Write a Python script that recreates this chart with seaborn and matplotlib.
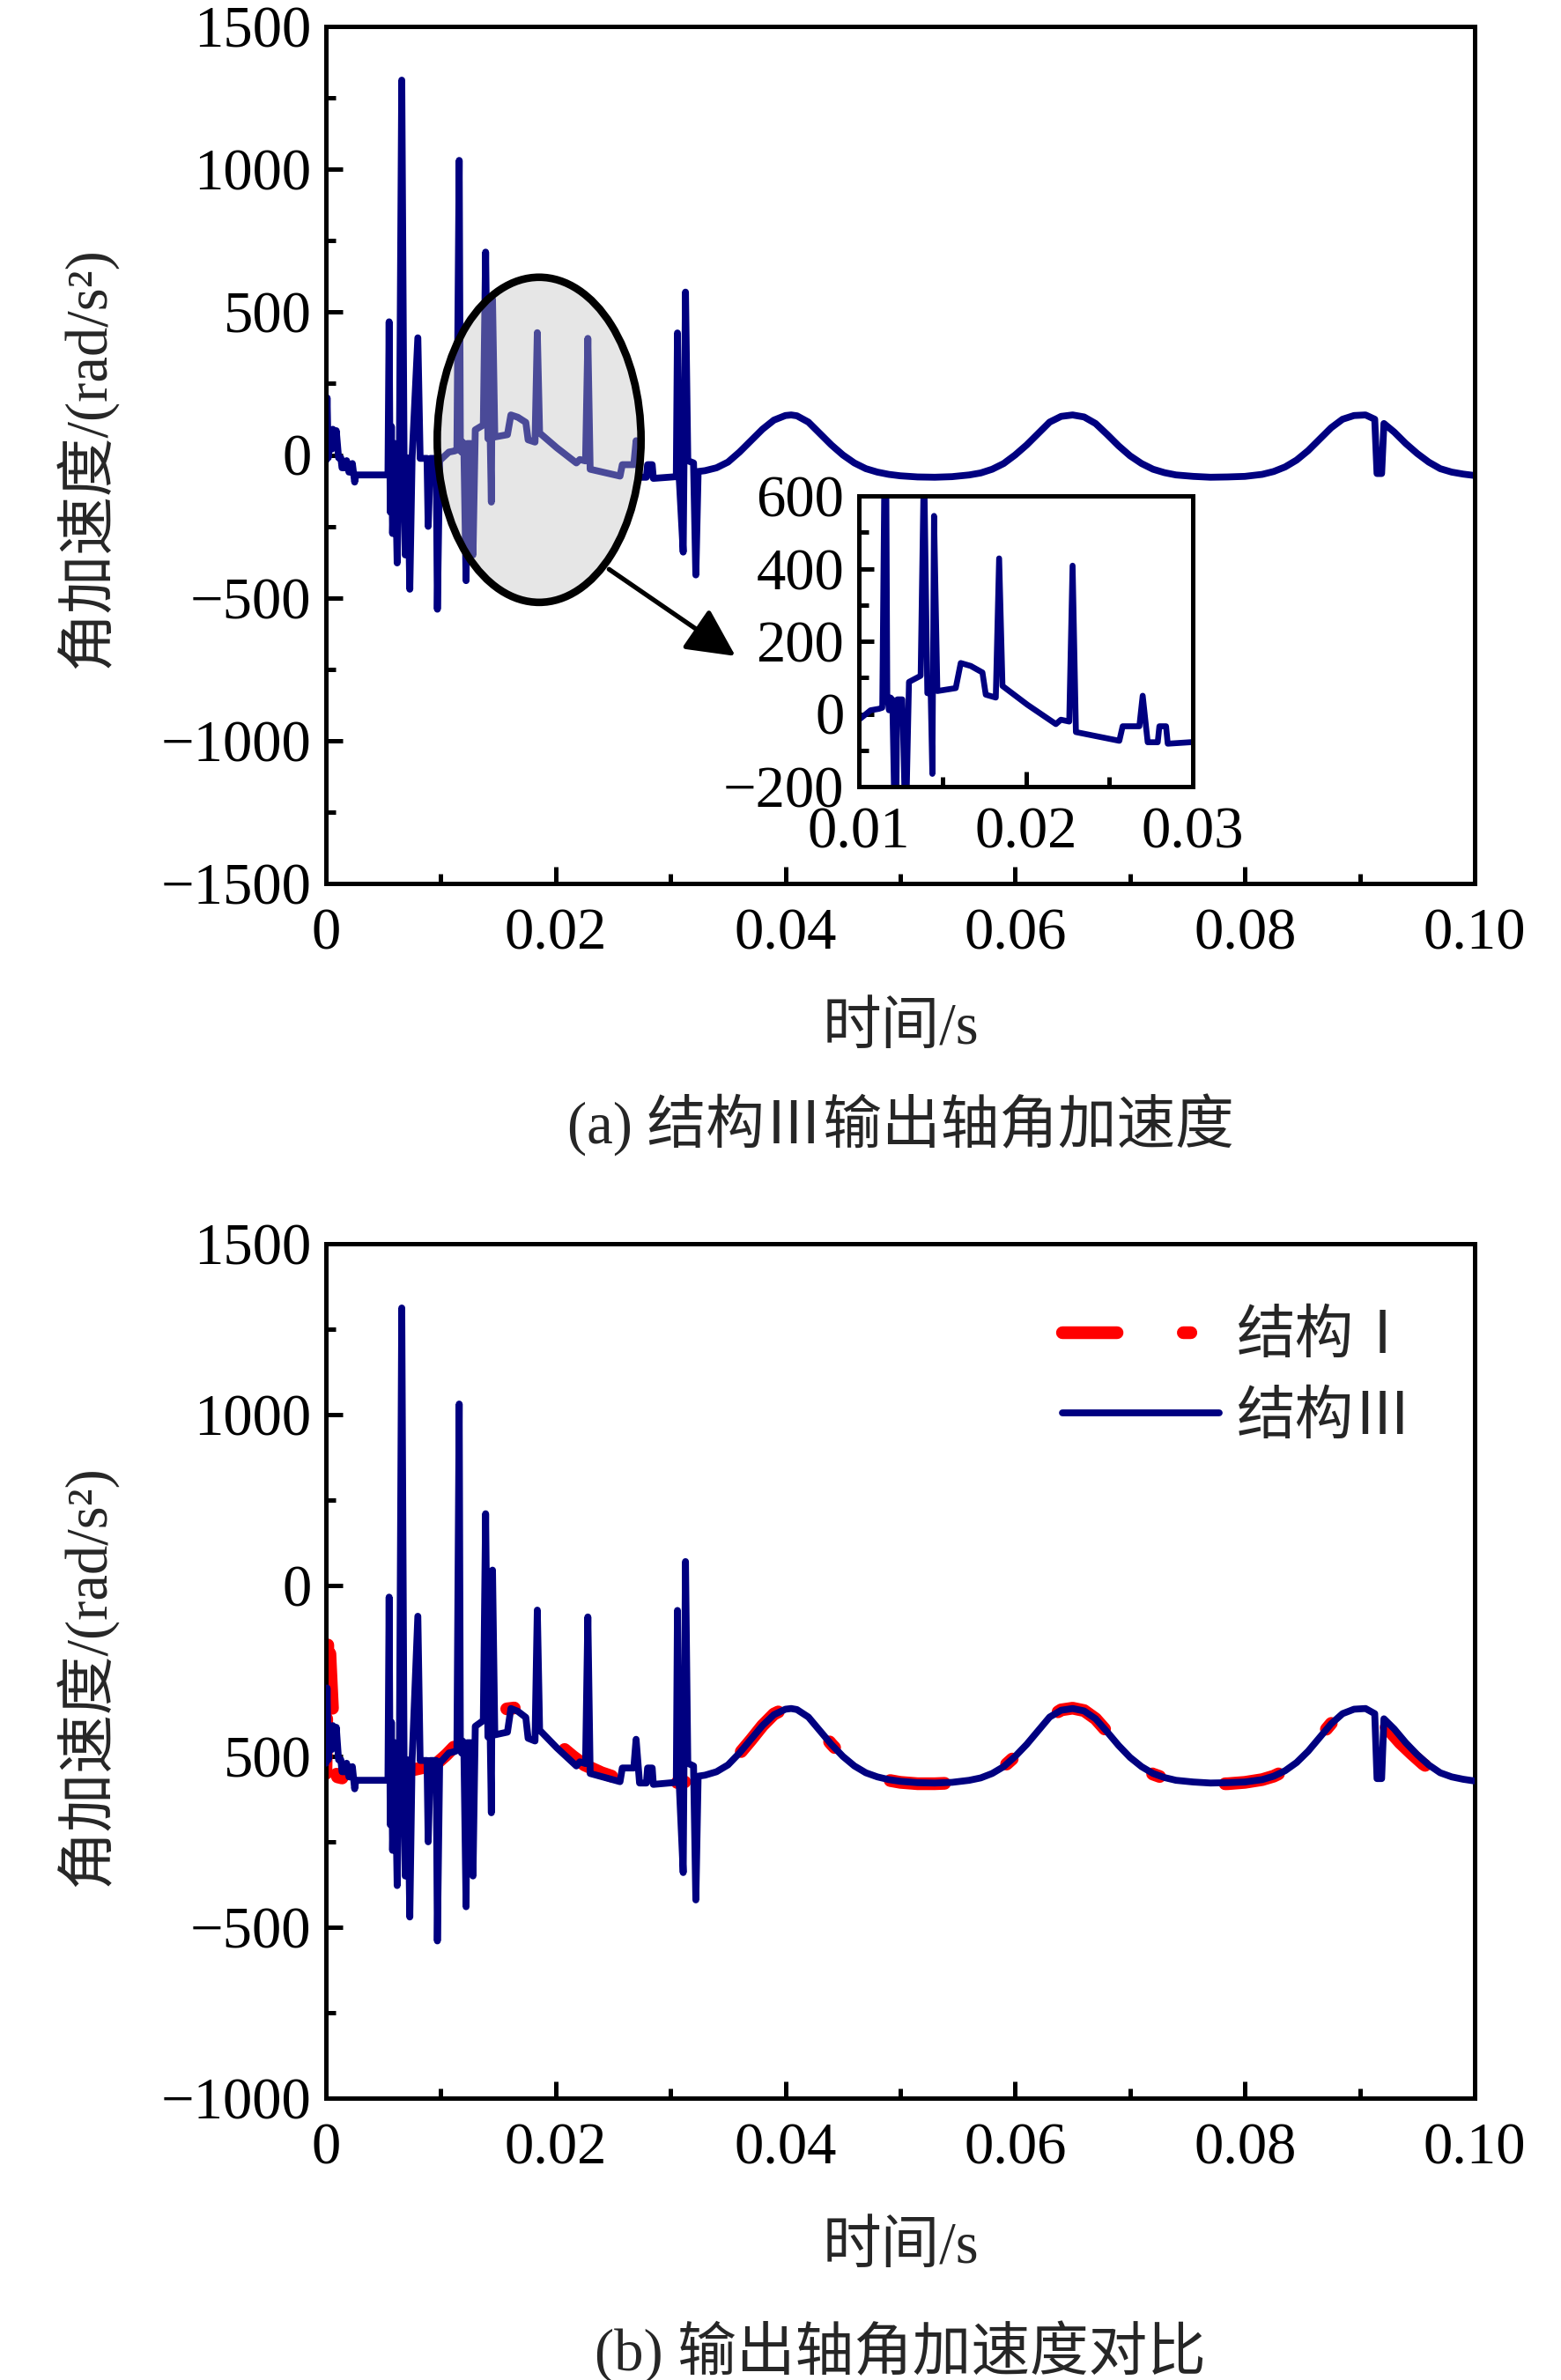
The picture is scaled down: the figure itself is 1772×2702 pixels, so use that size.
import numpy as np
import pandas as pd
import matplotlib
matplotlib.use("Agg")
import matplotlib.pyplot as plt
from matplotlib.patches import Ellipse
from matplotlib.ticker import MultipleLocator
import seaborn as sns

# ---------------- data ----------------
t3 = [0.0000, 0.0001, 0.0002, 0.0003, 0.0005, 0.0006, 0.0008, 0.0009, 0.0011, 0.0013,
      0.0014, 0.0017, 0.0018, 0.0020, 0.0022, 0.0023, 0.0025, 0.0026, 0.0054, 0.0055,
      0.0056, 0.0057, 0.0058, 0.0060, 0.0062, 0.0064, 0.0066, 0.0068, 0.0069, 0.0071,
      0.0073, 0.0075, 0.0080, 0.0082, 0.0088, 0.0089, 0.0091, 0.0096, 0.0097, 0.0099,
      0.0100, 0.0103, 0.0107, 0.0112, 0.0114, 0.0116, 0.0117, 0.0118, 0.0119, 0.0120,
      0.0122, 0.0123, 0.0126, 0.0128, 0.0130, 0.0137, 0.0139, 0.0141, 0.0143, 0.0144,
      0.0145, 0.0147, 0.0158, 0.0161, 0.0167, 0.0174, 0.0176, 0.0182, 0.0184, 0.0186,
      0.0201, 0.0209, 0.0218, 0.0221, 0.0226, 0.0228, 0.0230, 0.0256, 0.0258, 0.0268,
      0.0270, 0.0273, 0.0279, 0.0280, 0.0284, 0.0285, 0.0305, 0.0306, 0.0307, 0.0311,
      0.0313, 0.0315, 0.0320, 0.0322, 0.0324,
      0.0330, 0.0340, 0.0350, 0.0360, 0.0370, 0.0380, 0.0390, 0.0400, 0.0405, 0.0410,
      0.0420, 0.0430, 0.0440, 0.0450, 0.0460, 0.0470, 0.0480, 0.0490, 0.0500, 0.0515,
      0.0530, 0.0545, 0.0560, 0.0570, 0.0580, 0.0590, 0.0600, 0.0610, 0.0620, 0.0630,
      0.0640, 0.0650, 0.0660, 0.0670, 0.0680, 0.0690, 0.0700, 0.0710, 0.0720, 0.0730,
      0.0740, 0.0755, 0.0770, 0.0785, 0.0800, 0.0815, 0.0825, 0.0835, 0.0845, 0.0855,
      0.0865, 0.0875, 0.0885, 0.0895, 0.0905, 0.0913, 0.0915, 0.0919, 0.0921, 0.0930,
      0.0940, 0.0950, 0.0960, 0.0970, 0.0980, 0.0990, 0.1000]
a3 = [-20, 200, -10, 85, 20, 90, 25, 85, -10, -10,
      -45, -45, -20, -60, -60, -30, -95, -70, -70, 466,
      -200, 100, -275, 40, -378, 40, 1312, -10, -350, -10,
      -470, -10, 410, -12, -12, -250, -12, -12, -540, -15,
      -16, -5, 10, 14, 17, 1031, 47, 10, 45, 40,
      -440, 40, 40, -350, 88, 105, 710, 57, 60, -165,
      545, 63, 71, 140, 132, 114, 53, 45, 428, 77,
      25, 0, -28, -16, -21, 408, -50, -74, -34, -34,
      50, -78, -78, -34, -34, -82, -76, 427, -40, -340,
      570, -20, -28, -420, -58,
      -55, -45, -25, 10, 50, 90, 122, 138, 140, 137,
      115, 75, 35, 0, -28, -48, -60, -68, -73, -77,
      -78, -76, -70, -63, -50, -30, 0, 35, 75, 115,
      135, 140, 133, 110, 72, 32, -3, -30, -50, -62,
      -70, -75, -78, -77, -75, -68, -58, -42, -18, 15,
      55, 95, 125, 138, 140, 125, -65, -65, 110, 80,
      40, 5, -25, -48, -60, -67, -72]

t1 = [0.0000, 0.0002, 0.0004, 0.0006, 0.0008, 0.0010, 0.0025, 0.0050, 0.0075, 0.0095,
      0.0105, 0.0115, 0.0125, 0.0135, 0.0145, 0.0155, 0.0165, 0.0175, 0.0185, 0.0195,
      0.0205, 0.0215, 0.0225, 0.0240, 0.0255, 0.0270, 0.0290, 0.0310, 0.0325,
      0.0330, 0.0340, 0.0350, 0.0360, 0.0370, 0.0380, 0.0390, 0.0400, 0.0405, 0.0410,
      0.0420, 0.0430, 0.0440, 0.0450, 0.0460, 0.0470, 0.0480, 0.0490, 0.0500, 0.0515,
      0.0530, 0.0545, 0.0560, 0.0570, 0.0580, 0.0590, 0.0600, 0.0610, 0.0620, 0.0630,
      0.0640, 0.0650, 0.0660, 0.0670, 0.0680, 0.0690, 0.0700, 0.0710, 0.0720, 0.0730,
      0.0740, 0.0755, 0.0770, 0.0785, 0.0800, 0.0815, 0.0825, 0.0835, 0.0845, 0.0855,
      0.0865, 0.0875, 0.0885, 0.0895, 0.0905, 0.0915, 0.0925, 0.0935, 0.0945, 0.0955,
      0.0965, 0.0975, 0.0990, 0.1000]
a1 = [-50, 410, 260, 120, -40, -60, -72, -62, -40, -25,
      5, 40, 72, 100, 122, 138, 142, 125, 98, 60,
      28, 0, -25, -48, -65, -75, -78, -76, -68,
      -62, -48, -28, 8, 48, 90, 124, 140, 142, 138,
      116, 76, 36, 0, -30, -50, -62, -70, -76, -80,
      -80, -78, -72, -64, -50, -30, 0, 35, 75, 115,
      136, 141, 134, 110, 72, 32, -4, -32, -52, -64,
      -72, -78, -81, -80, -76, -68, -58, -42, -18, 15,
      56, 96, 126, 138, 138, 112, 78, 40, 8, -22,
      -45, -58, -68, -72]

xticks_main = [0, 0.02, 0.04, 0.06, 0.08, 0.10]
xticklabels_main = ["0", "0.02", "0.04", "0.06", "0.08", "0.10"]
yticks_a = [1500, 1000, 500, 0, -500, -1000, -1500]
yticklabels_a = ["1500", "1000", "500", "0", "\u2212500", "\u22121000", "\u22121500"]
yticks_b = [1500, 1000, 500, 0, -500, -1000]
yticklabels_b = ["1500", "1000", "0", "500", "\u2212500", "\u22121000"]
xticks_in = [0.01, 0.02, 0.03]
xticklabels_in = ["0.01", "0.02", "0.03"]
yticks_in = [600, 400, 200, 0, -200]
yticklabels_in = ["600", "400", "200", "0", "\u2212200"]

name1 = "结构Ⅰ"
name3 = "结构Ⅲ"
ylabel = "角加速度/(rad/s²)"
xlabel = "时间/s"
cap_a = "(a) 结构Ⅲ输出轴角加速度"
cap_b = "(b) 输出轴角加速度对比"

df3 = pd.DataFrame({"t": t3, "a": a3})
df1 = pd.DataFrame({"t": t1, "a": a1})

# ---------------- style ----------------
sns.set_theme(style="ticks")
FAM = ["Liberation Serif", "Noto Sans CJK SC", "DejaVu Sans"]
plt.rcParams["font.family"] = FAM
plt.rcParams["axes.unicode_minus"] = True

BLUE = "#000080"
RED = "#ff0000"
FS = 24
SPW = 1.8
LWB = 2.8

W, H = 1772, 2702
fig = plt.figure(figsize=(W / 200, H / 200), dpi=200)
fig.patch.set_facecolor("white")


def style_axes(ax, xt, xtl, yt, ytl, xminor, yminor):
    for s in ax.spines.values():
        s.set_visible(True)
        s.set_color("black")
        s.set_linewidth(SPW)
    ax.set_facecolor("white")
    ax.set_xticks(xt)
    ax.set_xticklabels(xtl, fontsize=FS)
    ax.set_yticks(yt)
    ax.set_yticklabels(ytl, fontsize=FS)
    ax.xaxis.set_minor_locator(MultipleLocator(xminor))
    ax.yaxis.set_minor_locator(MultipleLocator(yminor))
    ax.tick_params(which="both", direction="in", top=False, right=False,
                   width=SPW, color="black", labelcolor="black")
    ax.tick_params(which="major", length=7)
    ax.tick_params(which="minor", length=4)
    ax.tick_params(axis="y", which="major", pad=6)
    ax.tick_params(axis="x", which="major", pad=10)
    ax.set_xlabel("")
    ax.set_ylabel("")
    ax.grid(False)


# ---------------- (a) ----------------
axA = fig.add_axes([370 / W, 1 - 1003 / H, 1304 / W, 973 / H])
sns.lineplot(data=df3, x="t", y="a", ax=axA, color=BLUE, lw=LWB, sort=False,
             estimator=None)
axA.set_xlim(0, 0.1)
axA.set_ylim(-1500, 1500)
style_axes(axA, xticks_main, xticklabels_main, yticks_a, yticklabels_a, 0.01, 250)
ell = Ellipse((0.01856, 53), 0.01774, 1138, facecolor=(0.75, 0.75, 0.75), alpha=0.39,
              edgecolor="none", zorder=4)
axA.add_patch(ell)
ell2 = Ellipse((0.01856, 53), 0.01774, 1138, facecolor="none", edgecolor="black",
               lw=3.1, zorder=5)
axA.add_patch(ell2)
axA.annotate("", xy=(0.03565, -704), xytext=(0.02464, -400),
             arrowprops=dict(arrowstyle="-|>", color="black", lw=1.9,
                             mutation_scale=42, shrinkA=0, shrinkB=0), zorder=6)

# inset
axI = fig.add_axes([975 / W, 1 - 893 / H, 379 / W, 330 / H])
sns.lineplot(data=df3, x="t", y="a", ax=axI, color=BLUE, lw=2.4, sort=False,
             estimator=None)
axI.set_xlim(0.01, 0.03)
axI.set_ylim(-200, 600)
style_axes(axI, xticks_in, xticklabels_in, yticks_in, yticklabels_in, 0.005, 100)
axI.tick_params(which="major", length=6)
axI.tick_params(which="minor", length=4)
axI.tick_params(axis="x", which="major", pad=8)

fig.text(1022 / W, 1 - 1168 / H, xlabel, ha="center", va="center", fontsize=FS, family=FAM)
fig.text(1022 / W, 1 - 1277 / H, cap_a, ha="center", va="center", fontsize=FS, family=FAM)
fig.text(98 / W, 1 - 520 / H, ylabel, ha="center", va="center", rotation=90,
         fontsize=FS, family=FAM)

# ---------------- (b) ----------------
axB = fig.add_axes([370 / W, 1 - 2382 / H, 1304 / W, 970 / H])
sns.lineplot(data=df1, x="t", y="a", ax=axB, color=RED, lw=5.2, sort=False,
             estimator=None, linestyle=(0, (4.3, 5.2, 0.6, 5.2)),
             dash_capstyle="round", label=name1, zorder=2)
sns.lineplot(data=df3, x="t", y="a", ax=axB, color=BLUE, lw=LWB, sort=False,
             estimator=None, label=name3, zorder=3)
axB.set_xlim(0, 0.1)
axB.set_ylim(-1000, 1500)
style_axes(axB, xticks_main, xticklabels_main, yticks_b, yticklabels_b, 0.01, 250)
handles, labels = axB.get_legend_handles_labels()
leg = axB.legend(handles, labels, loc="center left", bbox_to_anchor=(0.641, 0.842),
                 frameon=False, handlelength=2.67, handletextpad=0.3,
                 labelspacing=0.45, borderaxespad=0, borderpad=0,
                 prop={"family": FAM, "size": FS})

fig.text(1022 / W, 1 - 2552 / H, xlabel, ha="center", va="center", fontsize=FS, family=FAM)
fig.text(1022 / W, 1 - 2670 / H, cap_b, ha="center", va="center", fontsize=FS, family=FAM)
fig.text(98 / W, 1 - 1903 / H, ylabel, ha="center", va="center", rotation=90,
         fontsize=FS, family=FAM)

fig.savefig("out.png", dpi=200, facecolor="white")
